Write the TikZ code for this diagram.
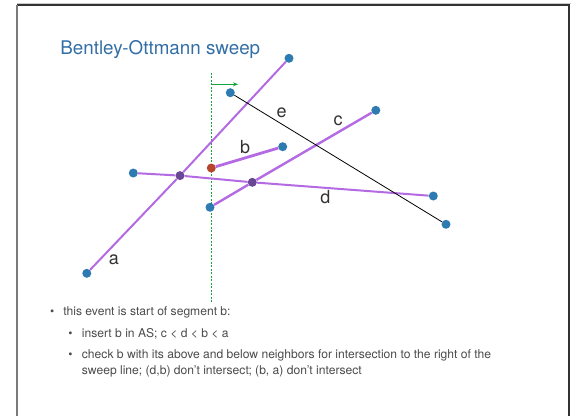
\documentclass[tikz,border=0pt]{standalone}
\usepackage{fontspec}
\setmainfont{TeX Gyre Heros}
\usetikzlibrary{arrows.meta}
\definecolor{segpurple}{HTML}{B36AE2}
\definecolor{endblue}{HTML}{2D7BB0}
\definecolor{startred}{HTML}{B5452C}
\definecolor{crossviolet}{HTML}{6A4794}
\definecolor{sweepgreen}{HTML}{16A33A}
\definecolor{titleblue}{HTML}{336FA6}
\definecolor{bodygray}{HTML}{4A4A4A}
\definecolor{framegray}{HTML}{7A7A7A}

\begin{document}
\begin{tikzpicture}[x=1pt, y=-1pt,
    endpt/.style={circle, fill=endblue, inner sep=0pt, minimum size=9pt},
    startpt/.style={circle, fill=startred, inner sep=0pt, minimum size=9pt},
    crosspt/.style={circle, fill=crossviolet, inner sep=0pt, minimum size=9pt},
    seg/.style={draw=segpurple, line width=2pt},
    seglabel/.style={font=\fontsize{18}{20}\selectfont, text=black!80, inner sep=0pt},
    bodytext/.style={anchor=base west, font=\fontsize{12.1}{14}\selectfont, text=bodygray, inner sep=0pt},
    bulletmark/.style={anchor=base, font=\fontsize{12}{14}\selectfont, text=bodygray, inner sep=0pt},
    sweepdot/.style={fill=sweepgreen, draw=none},
    sweepdir/.style={-{Stealth[length=5pt, width=4pt]}, color=sweepgreen, line width=0.9pt}
]
\useasboundingbox (0,0) rectangle (571,416);

% Slide frame
\draw[framegray!40, line width=0.8pt] (17,3.2) -- (571,3.2);
\draw[black!80, line width=1.2pt] (17,5) -- (569,5) -- (569,416);
\draw[framegray, line width=2pt] (17,4.5) -- (17,416);

% Title
\node[anchor=base west, font=\fontsize{18.8}{22}\selectfont, text=titleblue, inner sep=0pt] (title) at (60.2,54.3) {Bentley-Ottmann sweep};

% Sweep line (dotted) and its direction
\foreach \y in {72.7,76.2,...,300.5}
  \fill[sweepdot] (210.7,\y) rectangle ++(1.2,1.8);
\coordinate (sweeparrow) at (211.3,84.3);
\coordinate (sweeptip) at (238,84.3);
\draw[sweepdir] (sweeparrow) -- (sweeptip);

% Endpoints
\node[endpt] (a1) at (86.8,273.3) {};
\node[endpt] (a2) at (289,58.3) {};
\node[startpt] (b1) at (211.3,168) {};
\node[endpt] (b2) at (282.7,146.7) {};
\node[endpt] (c1) at (210,207.3) {};
\node[endpt] (c2) at (375.8,110.3) {};
\node[endpt] (d1) at (133.3,173) {};
\node[endpt] (d2) at (433.3,196) {};
\node[endpt] (e1) at (230.3,92.7) {};
\node[endpt] (e2) at (446,224.3) {};

% Intersections found so far
\node[crosspt] (ad) at (180,175.6) {};
\node[crosspt] (cd) at (252.3,182.3) {};

% Segments
\draw[seg] (a1) -- (ad) -- (a2);
\draw[seg, line width=2.8pt] (b1) -- (b2);
\draw[seg, line width=2.4pt] (c1) -- (cd) -- (c2);
\draw[seg] (d1) -- (ad) -- (cd) -- (d2);
\draw[black, line width=0.8pt] (e1) -- (e2);

% Segment names
\node[seglabel] (la) at (113.8,259.3) {a};
\node[seglabel] (lb) at (245.2,146.7) {b};
\node[seglabel] (lc) at (338.2,120.7) {c};
\node[seglabel] (ld) at (325.4,197.3) {d};
\node[seglabel] (le) at (281.6,112.3) {e};

% Notes
\node[bulletmark] (m1) at (52.2,315.6) {\textbullet};
\node[bodytext] (t1) at (63.1,315.6) {this event is start of segment b:};
\node[bulletmark] (m2) at (70.4,337.7) {\textbullet};
\node[bodytext] (t2) at (81.7,337.7) {insert b in AS; c < d < b < a};
\node[bulletmark] (m3) at (70.4,358.3) {\textbullet};
\node[bodytext] (t3) at (81.7,358.3) {check b with its above and below neighbors for intersection to the right of the};
\node[bodytext] (t4) at (81.7,374.3) {sweep line; (d,b) don't intersect; (b, a) don't intersect};

\end{tikzpicture}
\end{document}
